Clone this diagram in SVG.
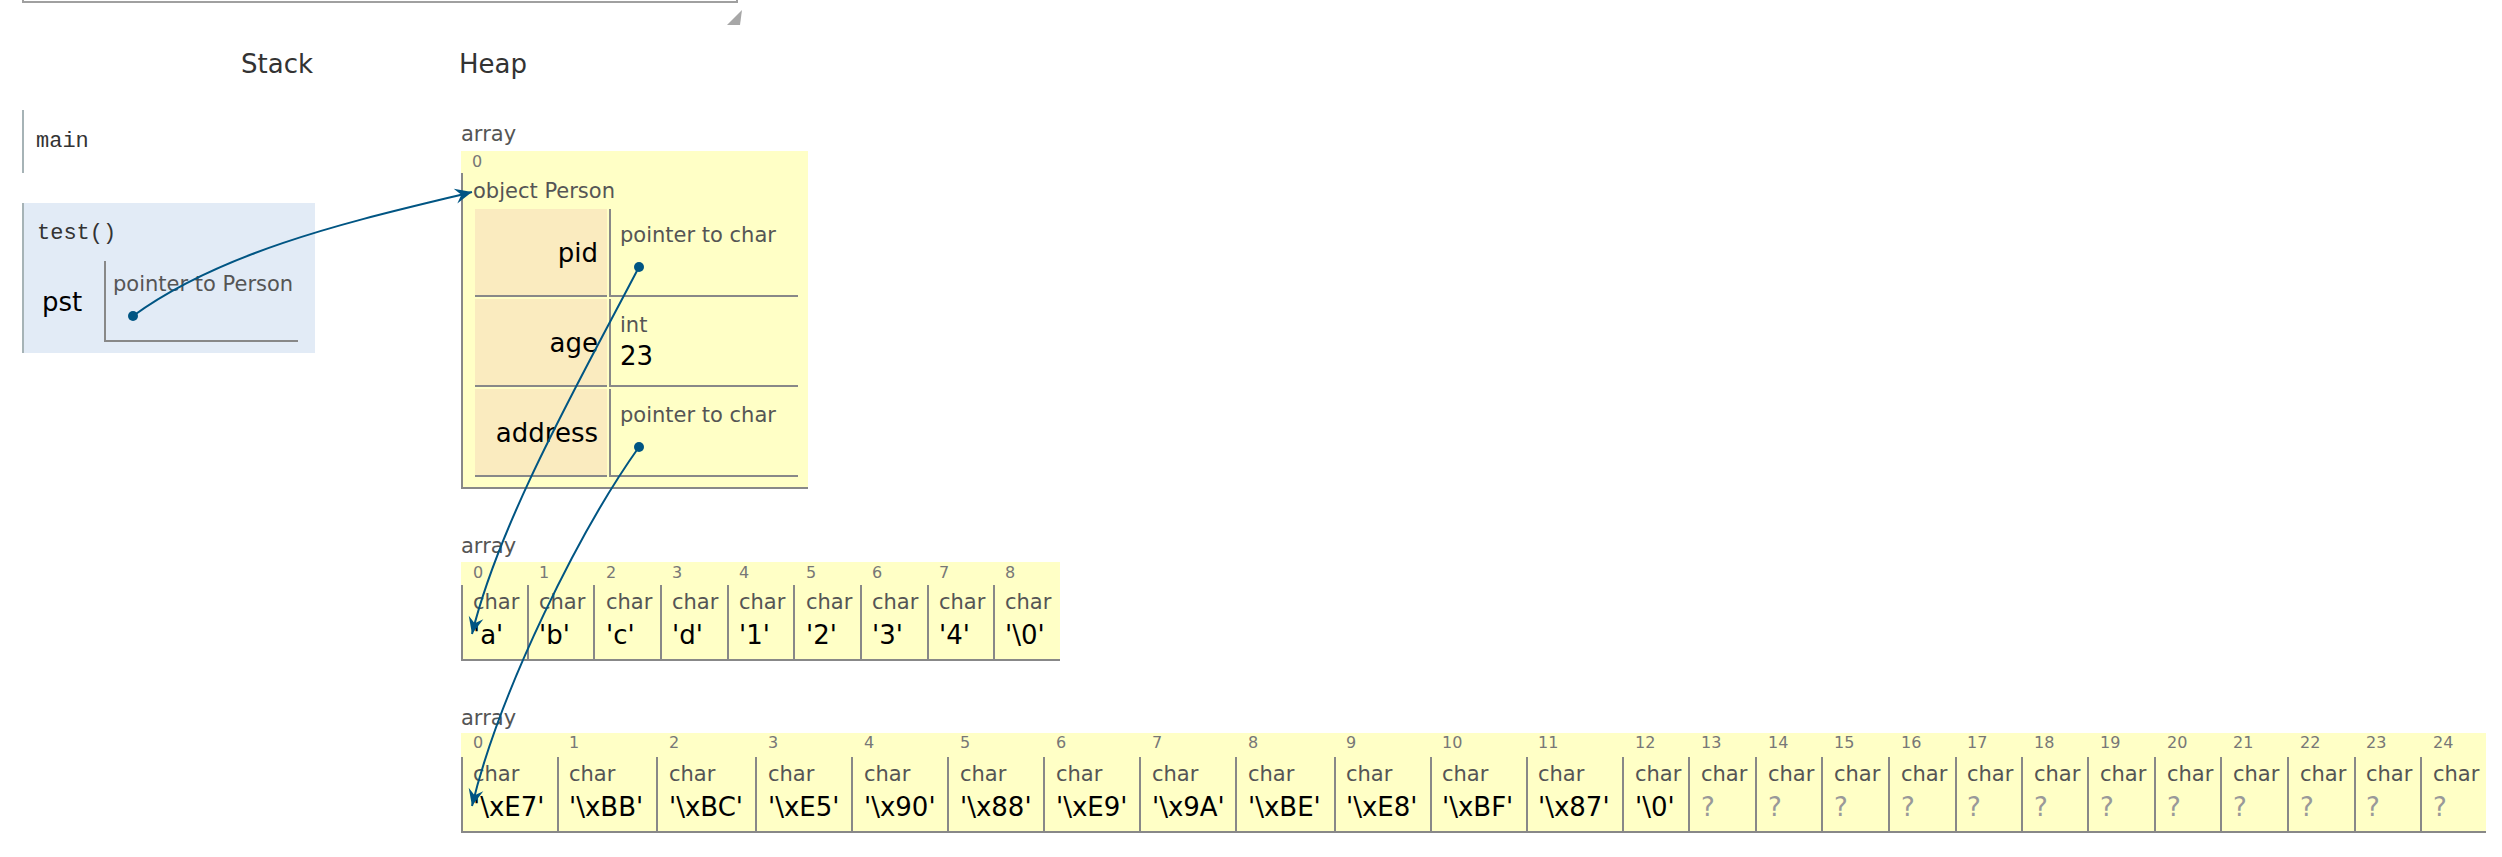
<svg xmlns="http://www.w3.org/2000/svg" width="2502" height="857" viewBox="0 0 2502 857">
<defs>
<style>
text{font-family:"DejaVu Sans","Liberation Sans",sans-serif}
.hdr{font-size:26px;fill:#333}
.mono{font-family:"Liberation Mono","DejaVu Sans Mono",monospace;font-size:22px;fill:#333}
.lbl{font-size:21px;fill:#555}
.idx{font-size:16px;fill:#777}
.val{font-size:26px;fill:#000}
.unk{font-size:26px;fill:#999}
.key{font-size:26px;fill:#000;text-anchor:end}
.bd{stroke:#888;stroke-width:2;fill:none}
.fb{stroke:#a6b3b6;stroke-width:2;fill:none}
.yel{fill:#ffffc6}
.kc{fill:#faebbf}
.ptr{stroke:#005583;stroke-width:2;fill:none;marker-end:url(#arr)}
.dot{fill:#005583}
</style>
<marker id="arr" markerUnits="userSpaceOnUse" viewBox="-18 -9 19 18" refX="0" refY="0" markerWidth="19" markerHeight="18" orient="auto">
<path d="M0,0 L-17,-7.5 L-11,0 L-17,7.5 Z" fill="#005583"/>
</marker>
</defs>
<rect width="2502" height="857" fill="#fff"/>

<g id="code-area">
<path d="M23,0 V2 H737 V0" stroke="#a0a0a0" stroke-width="2" fill="none"/>
<polygon points="742,10 740,25 727,25" fill="#8a8a8a" opacity="0.75"/>
</g>

<g id="headers">
<text class="hdr" x="241" y="73">Stack</text>
<text class="hdr" x="459" y="73">Heap</text>
</g>

<g id="frame-main">
<line class="fb" x1="23" y1="110" x2="23" y2="173"/>
<text class="mono" x="36" y="147">main</text>
</g>

<g id="frame-test">
<rect x="22" y="203" width="293" height="150" fill="#e2ebf6"/>
<line class="fb" x1="23" y1="203" x2="23" y2="353"/>
<text class="mono" x="37" y="239">test()</text>
<text class="val" x="42" y="311">pst</text>
<path class="bd" d="M105,261 V341 H298"/>
<text class="lbl" x="113" y="291">pointer to Person</text>
<circle class="dot" cx="133" cy="316" r="5"/>
</g>

<g id="heap-person-array">
<text class="lbl" x="461" y="141">array</text>
<rect class="yel" x="461" y="151" width="347" height="338"/>
<text class="idx" x="472" y="167">0</text>
<path class="bd" d="M462,173 V488 H808"/>
<text class="lbl" x="473" y="198">object Person</text>
<g id="field-pid">
<rect class="kc" x="475" y="209" width="132" height="86"/>
<line class="bd" x1="475" y1="296" x2="607" y2="296"/>
<path class="bd" d="M610,209 V296 H798"/>
<text class="key" x="598" y="262">pid</text>
<text class="lbl" x="620" y="242">pointer to char</text>
<circle class="dot" cx="639" cy="267" r="5"/>
</g>
<g id="field-age">
<rect class="kc" x="475" y="299" width="132" height="86"/>
<line class="bd" x1="475" y1="386" x2="607" y2="386"/>
<path class="bd" d="M610,299 V386 H798"/>
<text class="key" x="598" y="352">age</text>
<text class="lbl" x="620" y="332">int</text>
<text class="val" x="620" y="365">23</text>
</g>
<g id="field-address">
<rect class="kc" x="475" y="389" width="132" height="86"/>
<line class="bd" x1="475" y1="476" x2="607" y2="476"/>
<path class="bd" d="M610,389 V476 H798"/>
<text class="key" x="598" y="442">address</text>
<text class="lbl" x="620" y="422">pointer to char</text>
<circle class="dot" cx="639" cy="447" r="5"/>
</g>
</g>

<g id="heap-array-pid">
<text class="lbl" x="461" y="553">array</text>
<rect class="yel" x="461" y="562" width="599" height="98"/>
<line class="bd" x1="461" y1="660" x2="1060" y2="660"/>
<g><line class="bd" x1="462" y1="585" x2="462" y2="660"/><text class="idx" x="473" y="578">0</text><text class="lbl" x="473" y="609">char</text><text class="val" x="473" y="644">'a'</text></g>
<g><line class="bd" x1="528" y1="585" x2="528" y2="660"/><text class="idx" x="539" y="578">1</text><text class="lbl" x="539" y="609">char</text><text class="val" x="539" y="644">'b'</text></g>
<g><line class="bd" x1="594" y1="585" x2="594" y2="660"/><text class="idx" x="606" y="578">2</text><text class="lbl" x="606" y="609">char</text><text class="val" x="606" y="644">'c'</text></g>
<g><line class="bd" x1="661" y1="585" x2="661" y2="660"/><text class="idx" x="672" y="578">3</text><text class="lbl" x="672" y="609">char</text><text class="val" x="672" y="644">'d'</text></g>
<g><line class="bd" x1="728" y1="585" x2="728" y2="660"/><text class="idx" x="739" y="578">4</text><text class="lbl" x="739" y="609">char</text><text class="val" x="739" y="644">'1'</text></g>
<g><line class="bd" x1="794" y1="585" x2="794" y2="660"/><text class="idx" x="806" y="578">5</text><text class="lbl" x="806" y="609">char</text><text class="val" x="806" y="644">'2'</text></g>
<g><line class="bd" x1="861" y1="585" x2="861" y2="660"/><text class="idx" x="872" y="578">6</text><text class="lbl" x="872" y="609">char</text><text class="val" x="872" y="644">'3'</text></g>
<g><line class="bd" x1="928" y1="585" x2="928" y2="660"/><text class="idx" x="939" y="578">7</text><text class="lbl" x="939" y="609">char</text><text class="val" x="939" y="644">'4'</text></g>
<g><line class="bd" x1="994" y1="585" x2="994" y2="660"/><text class="idx" x="1005" y="578">8</text><text class="lbl" x="1005" y="609">char</text><text class="val" x="1005" y="644">'\0'</text></g>
</g>

<g id="heap-array-address">
<text class="lbl" x="461" y="725">array</text>
<rect class="yel" x="461" y="733" width="2025" height="99"/>
<line class="bd" x1="461" y1="832" x2="2486" y2="832"/>
<g><line class="bd" x1="462" y1="757" x2="462" y2="832"/><text class="idx" x="473" y="748">0</text><text class="lbl" x="473" y="781">char</text><text class="val" x="473" y="816">'\xE7'</text></g>
<g><line class="bd" x1="558" y1="757" x2="558" y2="832"/><text class="idx" x="569" y="748">1</text><text class="lbl" x="569" y="781">char</text><text class="val" x="569" y="816">'\xBB'</text></g>
<g><line class="bd" x1="657" y1="757" x2="657" y2="832"/><text class="idx" x="669" y="748">2</text><text class="lbl" x="669" y="781">char</text><text class="val" x="669" y="816">'\xBC'</text></g>
<g><line class="bd" x1="756" y1="757" x2="756" y2="832"/><text class="idx" x="768" y="748">3</text><text class="lbl" x="768" y="781">char</text><text class="val" x="768" y="816">'\xE5'</text></g>
<g><line class="bd" x1="852" y1="757" x2="852" y2="832"/><text class="idx" x="864" y="748">4</text><text class="lbl" x="864" y="781">char</text><text class="val" x="864" y="816">'\x90'</text></g>
<g><line class="bd" x1="948" y1="757" x2="948" y2="832"/><text class="idx" x="960" y="748">5</text><text class="lbl" x="960" y="781">char</text><text class="val" x="960" y="816">'\x88'</text></g>
<g><line class="bd" x1="1044" y1="757" x2="1044" y2="832"/><text class="idx" x="1056" y="748">6</text><text class="lbl" x="1056" y="781">char</text><text class="val" x="1056" y="816">'\xE9'</text></g>
<g><line class="bd" x1="1140" y1="757" x2="1140" y2="832"/><text class="idx" x="1152" y="748">7</text><text class="lbl" x="1152" y="781">char</text><text class="val" x="1152" y="816">'\x9A'</text></g>
<g><line class="bd" x1="1236" y1="757" x2="1236" y2="832"/><text class="idx" x="1248" y="748">8</text><text class="lbl" x="1248" y="781">char</text><text class="val" x="1248" y="816">'\xBE'</text></g>
<g><line class="bd" x1="1335" y1="757" x2="1335" y2="832"/><text class="idx" x="1346" y="748">9</text><text class="lbl" x="1346" y="781">char</text><text class="val" x="1346" y="816">'\xE8'</text></g>
<g><line class="bd" x1="1431" y1="757" x2="1431" y2="832"/><text class="idx" x="1442" y="748">10</text><text class="lbl" x="1442" y="781">char</text><text class="val" x="1442" y="816">'\xBF'</text></g>
<g><line class="bd" x1="1527" y1="757" x2="1527" y2="832"/><text class="idx" x="1538" y="748">11</text><text class="lbl" x="1538" y="781">char</text><text class="val" x="1538" y="816">'\x87'</text></g>
<g><line class="bd" x1="1623" y1="757" x2="1623" y2="832"/><text class="idx" x="1635" y="748">12</text><text class="lbl" x="1635" y="781">char</text><text class="val" x="1635" y="816">'\0'</text></g>
<g><line class="bd" x1="1689" y1="757" x2="1689" y2="832"/><text class="idx" x="1701" y="748">13</text><text class="lbl" x="1701" y="781">char</text><text class="unk" x="1701" y="816">?</text></g>
<g><line class="bd" x1="1756" y1="757" x2="1756" y2="832"/><text class="idx" x="1768" y="748">14</text><text class="lbl" x="1768" y="781">char</text><text class="unk" x="1768" y="816">?</text></g>
<g><line class="bd" x1="1822" y1="757" x2="1822" y2="832"/><text class="idx" x="1834" y="748">15</text><text class="lbl" x="1834" y="781">char</text><text class="unk" x="1834" y="816">?</text></g>
<g><line class="bd" x1="1889" y1="757" x2="1889" y2="832"/><text class="idx" x="1901" y="748">16</text><text class="lbl" x="1901" y="781">char</text><text class="unk" x="1901" y="816">?</text></g>
<g><line class="bd" x1="1956" y1="757" x2="1956" y2="832"/><text class="idx" x="1967" y="748">17</text><text class="lbl" x="1967" y="781">char</text><text class="unk" x="1967" y="816">?</text></g>
<g><line class="bd" x1="2022" y1="757" x2="2022" y2="832"/><text class="idx" x="2034" y="748">18</text><text class="lbl" x="2034" y="781">char</text><text class="unk" x="2034" y="816">?</text></g>
<g><line class="bd" x1="2088" y1="757" x2="2088" y2="832"/><text class="idx" x="2100" y="748">19</text><text class="lbl" x="2100" y="781">char</text><text class="unk" x="2100" y="816">?</text></g>
<g><line class="bd" x1="2155" y1="757" x2="2155" y2="832"/><text class="idx" x="2167" y="748">20</text><text class="lbl" x="2167" y="781">char</text><text class="unk" x="2167" y="816">?</text></g>
<g><line class="bd" x1="2221" y1="757" x2="2221" y2="832"/><text class="idx" x="2233" y="748">21</text><text class="lbl" x="2233" y="781">char</text><text class="unk" x="2233" y="816">?</text></g>
<g><line class="bd" x1="2288" y1="757" x2="2288" y2="832"/><text class="idx" x="2300" y="748">22</text><text class="lbl" x="2300" y="781">char</text><text class="unk" x="2300" y="816">?</text></g>
<g><line class="bd" x1="2355" y1="757" x2="2355" y2="832"/><text class="idx" x="2366" y="748">23</text><text class="lbl" x="2366" y="781">char</text><text class="unk" x="2366" y="816">?</text></g>
<g><line class="bd" x1="2421" y1="757" x2="2421" y2="832"/><text class="idx" x="2433" y="748">24</text><text class="lbl" x="2433" y="781">char</text><text class="unk" x="2433" y="816">?</text></g>
</g>

<g id="connectors">
<path class="ptr" d="M133,316 C230,245 380,215 472,192"/>
<path class="ptr" d="M639,267 C580,380 500,520 472,634"/>
<path class="ptr" d="M639,447 C580,530 500,690 472,806"/>
</g>
</svg>
